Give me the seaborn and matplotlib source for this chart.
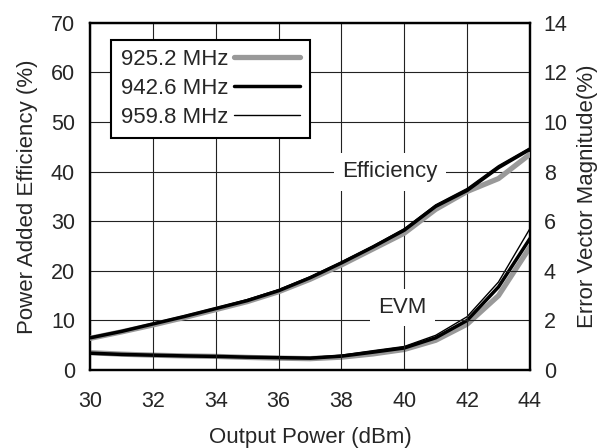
import numpy as np
import pandas as pd
import matplotlib
matplotlib.use("Agg")
import matplotlib.pyplot as plt
import seaborn as sns

power_dbm = [30, 31, 32, 33, 34, 35, 36, 37, 38, 39, 40, 41, 42, 43, 44]
freqs = ["925.2 MHz", "942.6 MHz", "959.8 MHz"]

# power added efficiency (%) per frequency
eff_925 = [6.4, 7.7, 9.1, 10.6, 12.2, 13.8, 15.8, 18.3, 21.2, 24.4, 27.6, 32.4, 36.0, 38.6, 43.5]
eff_942 = [6.5, 7.8, 9.3, 10.8, 12.4, 14.0, 16.0, 18.6, 21.6, 24.8, 28.2, 33.0, 36.2, 40.8, 44.5]
eff_959 = [6.6, 7.9, 9.4, 10.9, 12.5, 14.2, 16.2, 18.8, 21.8, 25.0, 28.5, 33.3, 36.6, 41.2, 44.8]

# error vector magnitude (%) per frequency
evm_925 = [0.70, 0.64, 0.60, 0.57, 0.55, 0.51, 0.48, 0.46, 0.52, 0.65, 0.83, 1.20, 1.85, 3.00, 4.95]
evm_942 = [0.68, 0.63, 0.60, 0.57, 0.55, 0.52, 0.50, 0.48, 0.56, 0.72, 0.89, 1.30, 2.00, 3.35, 5.30]
evm_959 = [0.68, 0.63, 0.60, 0.58, 0.56, 0.53, 0.50, 0.50, 0.60, 0.78, 0.95, 1.40, 2.15, 3.55, 5.70]

eff_df = pd.DataFrame({
    "power": power_dbm * 3,
    "value": eff_925 + eff_942 + eff_959,
    "freq": np.repeat(freqs, len(power_dbm)),
})
evm_df = pd.DataFrame({
    "power": power_dbm * 3,
    "value": evm_925 + evm_942 + evm_959,
    "freq": np.repeat(freqs, len(power_dbm)),
})

sns.set_style("white")
plt.rcParams["font.family"] = ["Liberation Sans", "DejaVu Sans"]

palette = {"925.2 MHz": "#999999", "942.6 MHz": "black", "959.8 MHz": "black"}
widths = {"925.2 MHz": 3.8, "942.6 MHz": 2.5, "959.8 MHz": 1.0}

fig, ax = plt.subplots(figsize=(6.14, 4.48), dpi=100)
ax2 = ax.twinx()

for f in freqs:
    sns.lineplot(data=eff_df[eff_df["freq"] == f], x="power", y="value",
                 color=palette[f], lw=widths[f], ax=ax, label=f, zorder=3)
    sns.lineplot(data=evm_df[evm_df["freq"] == f], x="power", y="value",
                 color=palette[f], lw=widths[f], ax=ax2, legend=False, zorder=3)

ax.set_xlim(30, 44)
ax.set_ylim(0, 70)
ax2.set_ylim(0, 14)
ax.set_xticks(range(30, 45, 2))
ax.set_yticks(range(0, 71, 10))
ax2.set_yticks(range(0, 15, 2))

ax.grid(True, color="#222222", lw=0.8, zorder=0)
ax.set_axisbelow(True)

fs = 16
tfs = 15.5
ax.tick_params(axis="x", length=0, labelsize=tfs, pad=15)
ax.tick_params(axis="y", length=0, labelsize=tfs, pad=11)
ax2.tick_params(length=0, labelsize=tfs, pad=10)
ax.set_xlabel("Output Power (dBm)", fontsize=fs, labelpad=11)
ax.set_ylabel("Power Added Efficiency (%)", fontsize=fs, labelpad=9)
ax2.set_ylabel("Error Vector Magnitude(%)", fontsize=fs, labelpad=7)

for a in (ax, ax2):
    for s in a.spines.values():
        s.set_color("black")
        s.set_linewidth(1.6)

ax.text(39.55, 40, "Efficiency", fontsize=fs, ha="center", va="center", zorder=4,
        bbox=dict(facecolor="white", edgecolor="none", pad=6))
ax.text(39.95, 12.6, "EVM", fontsize=fs, ha="center", va="center", zorder=4,
        bbox=dict(facecolor="white", edgecolor="none", pad=6))

leg = ax.legend(loc="upper left", bbox_to_anchor=(0.048, 0.951), borderaxespad=0,
                markerfirst=False, fontsize=fs, frameon=True, fancybox=False,
                handlelength=3.0, borderpad=0.42, labelspacing=0.36, handletextpad=0.25)
leg.get_frame().set_edgecolor("black")
leg.get_frame().set_linewidth(1.5)
leg.get_frame().set_alpha(1)
leg.set_zorder(10)
ax.set_zorder(ax2.get_zorder() + 1)
ax.patch.set_visible(False)

plt.subplots_adjust(left=0.147, right=0.863, top=0.949, bottom=0.174)
plt.savefig("out.png", dpi=100)
